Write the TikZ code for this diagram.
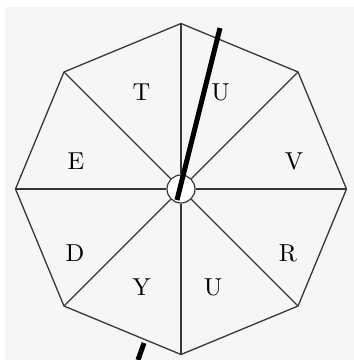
\documentclass[tikz,border=0pt]{standalone}
\usepackage{xcolor}
\usetikzlibrary{calc}
\definecolor{dialgray}{RGB}{246,246,246}
\definecolor{rimdark}{RGB}{55,55,55}
\newcommand{\dialletter}[1]{\scalebox{2.45}{\fontsize{10}{12}\selectfont #1}}

\begin{document}
\begin{tikzpicture}[
    x=1pt, y=-1pt,
    rim/.style={draw=rimdark, line width=1.3pt, line join=miter},
    spoke/.style={draw=rimdark, line width=1.2pt},
    hub/.style={circle, draw=rimdark, fill=white, line width=1.2pt, minimum size=28pt, inner sep=0pt},
    needle/.style={line width=5pt, black},
    letter/.style={inner sep=0pt}
]
\useasboundingbox (0,0) rectangle (354,360);
\fill[dialgray] (5,7) rectangle (354,360);

% Octagon
\coordinate (c) at (181,189);
\foreach \i in {0,...,7}
    \path (c) ++(\i*45:165.5) coordinate (v\i);
\draw[rim] (v0) -- (v1) -- (v2) -- (v3) -- (v4) -- (v5) -- (v6) -- (v7) -- cycle;

% Hub and spokes
\node[hub] (hub) at (c) {};
\foreach \i in {0,...,7}
    \draw[spoke] (hub) -- (v\i);

% Labels
\node[letter] (lblT) at (141.5,92) {\dialletter{T}};
\node[letter] (lblU) at (220.5,92) {\dialletter{U}};
\node[letter] (lblE) at (76,161) {\dialletter{E}};
\node[letter] (lblV) at (294,161) {\dialletter{V}};
\node[letter] (lblD) at (75,253) {\dialletter{D}};
\node[letter] (lblR) at (288,253) {\dialletter{R}};
\node[letter] (lblY) at (141.5,287) {\dialletter{Y}};
\node[letter] (lblW) at (213,287) {\dialletter{U}};

% Needle
\coordinate (ntop) at (220,28);
\coordinate (nmid) at (177,200);
\coordinate (nlow) at (144,343);
\coordinate (nend) at (138,360);
\draw[needle] (ntop) -- (nmid);
\draw[needle] (nlow) -- (nend);

\end{tikzpicture}
\end{document}
